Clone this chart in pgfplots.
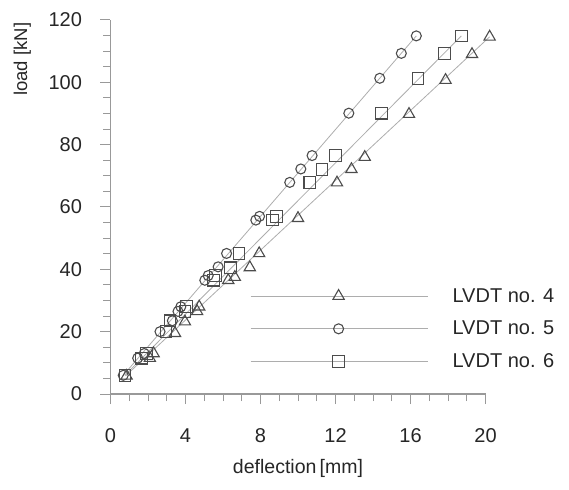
\documentclass[border=0pt]{standalone}
\usepackage{fontspec}
\setmainfont{Liberation Sans}
\usepackage{pgfplots}
\pgfplotsset{compat=1.18}
\definecolor{axisgray}{gray}{0.6}
\definecolor{markgray}{gray}{0.3}
\definecolor{linegray}{gray}{0.68}
\begin{document}
\begin{tikzpicture}
\begin{axis}[
  scale only axis,
  width=375pt, height=374pt,
  xmin=0, xmax=20, ymin=0, ymax=120,
  clip=false,
  axis lines*=left,
  axis line style={axisgray, line width=1.2pt, -},
  tick align=outside,
  major tick length=10pt, minor tick length=7pt,
  every tick/.style={axisgray, line width=1pt},
  xtick={0,4,...,20}, minor x tick num=3,
  ytick={0,20,...,120}, minor y tick num=3,
  /pgf/number format/assume math mode=true,
  tick label style={font=\fontsize{20}{24}\selectfont, text=black!85},
  xticklabel style={yshift=-21pt},
  yticklabel style={xshift=-15pt},
  label style={font=\fontsize{18.5}{22}\selectfont, text=black!85},
  xlabel={deflection\,[mm]},
  ylabel={load [kN]},
  xlabel style={font=\fontsize{19.5}{22}\selectfont, at={(axis description cs:0.5,-0.2)}, anchor=center},
  ylabel style={at={(axis description cs:-0.235,0.895)}, anchor=center, rotate=0},
  legend style={draw=none, fill=none, inner sep=0pt,
    at={(rel axis cs:0.372,0.174)}, anchor=west,
    font=\fontsize{20}{24}\selectfont, text=black!85,
    row sep=17.5pt,
    nodes={inner sep=0pt}},
  legend cell align=left,
  legend image code/.code={
    \path[draw=none, fill=none] (0pt,0pt) rectangle (202pt,0.1pt);
    \draw[linegray, line width=0.8pt] (0pt,0pt) -- (177pt,0pt);
    \draw[#1] plot coordinates {(88pt,0pt)};
  },
  every axis plot/.append style={line width=1pt},
]
\coordinate (o) at (rel axis cs:0,0);
% fitted lines
\addplot[linegray, line width=0.8pt, forget plot] coordinates {(0.8,5.8) (20.22,114.6)};
\addplot[linegray, line width=0.8pt, forget plot] coordinates {(0.68,6.0) (16.31,114.9)};
\addplot[linegray, line width=0.8pt, forget plot] coordinates {(0.77,6.0) (18.71,114.9)};
% LVDT no. 4
\addplot[only marks, mark=triangle, mark size=6.5pt, markgray, mark options={line width=1.1pt}] coordinates {
(0.86,5.8) (2.10,11.5) (2.30,13.0) (3.44,19.5) (3.97,23.2) (4.62,26.5) (4.73,28.0)
(6.28,36.5) (6.63,37.5) (7.43,40.6) (7.93,45.1) (10.00,56.4) (12.08,67.8) (12.85,72.1)
(13.56,76.0) (15.92,89.8) (17.87,100.7) (19.28,109.0) (20.22,114.6)};
\addlegendentry{LVDT no. 4}
% LVDT no. 5
\addplot[only marks, mark=o, mark size=5pt, markgray, mark options={line width=1.1pt}] coordinates {
(0.68,6.0) (1.45,11.5) (1.80,13.0) (2.64,20.0) (3.30,23.5) (3.60,26.5) (3.75,28.0)
(5.03,36.5) (5.21,38.0) (5.74,40.8) (6.19,45.1) (7.75,55.8) (7.95,57.0) (9.56,67.9)
(10.15,72.2) (10.75,76.5) (12.71,90.1) (14.36,101.3) (15.51,109.3) (16.31,114.9)};
\addlegendentry{LVDT no. 5}
% LVDT no. 6
\addplot[only marks, mark=square, mark size=5.8pt, markgray, mark options={line width=1.1pt}] coordinates {
(0.77,6.0) (1.66,11.5) (1.93,13.0) (2.96,20.0) (3.17,23.5) (3.97,26.5) (4.06,28.0)
(5.48,36.5) (5.60,38.0) (6.40,40.5) (6.85,45.1) (8.65,55.8) (8.85,57.0) (10.63,67.9)
(11.28,72.1) (12.01,76.5) (14.45,90.1) (16.40,101.3) (17.82,109.3) (18.71,114.9)};
\addlegendentry{LVDT no. 6}
\end{axis}
\pgfresetboundingbox
\path[use as bounding box] ([shift={(-110.5pt,-95pt)}]o) rectangle ([shift={(458.5pt,394pt)}]o);
\end{tikzpicture}
\end{document}
